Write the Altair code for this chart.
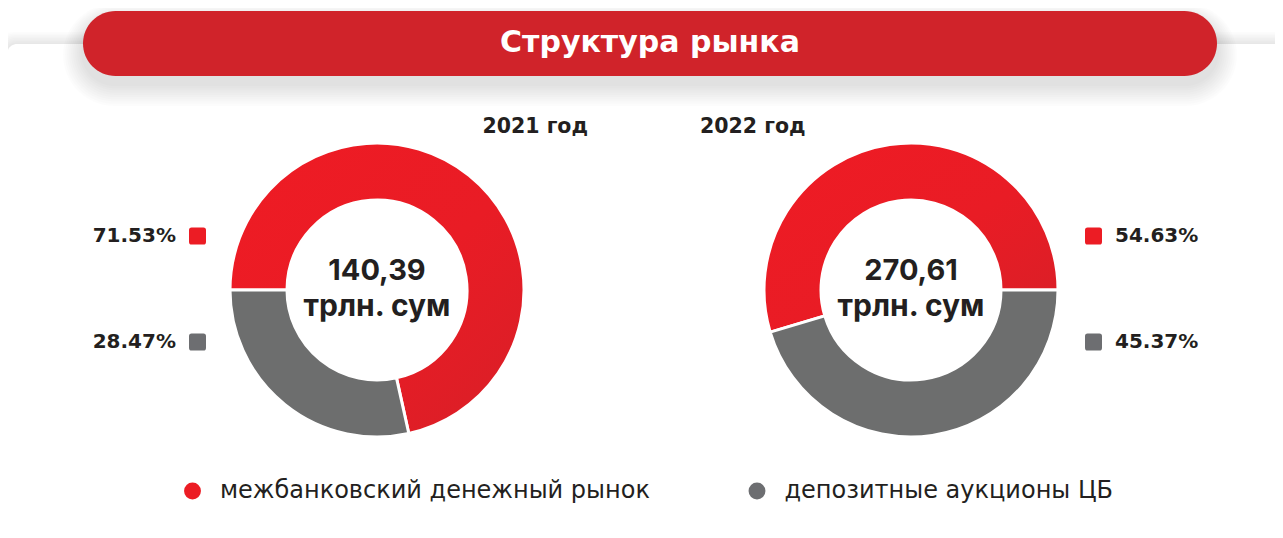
import math
import altair as alt
import pandas as pd

# ---- data ----
categories = ["межбанковский денежный рынок", "депозитные аукционы ЦБ"]
years = ["2021 год", "2022 год"]
shares_2021 = [71.53, 28.47]
shares_2022 = [54.63, 45.37]
totals = ["140,39", "270,61"]
unit = "трлн. сум"
title_text = "Структура рынка"

RED = "#EC1C24"
GRAY = "#6D6E6E"
MARK_GRAY = "#6D6E71"
BANNER = "#D0232A"
DARK = "#231F20"
FONT = "DejaVu Sans"
FONT_C = "Inter"

W, H = 1267, 522

df21 = pd.DataFrame({"category": categories, "value": shares_2021, "idx": [0, 1]})
df22 = pd.DataFrame({"category": categories, "value": shares_2022, "idx": [0, 1]})
dummy = pd.DataFrame({"a": [0]})

cscale = alt.Scale(domain=categories, range=[RED, MARK_GRAY])

red_grad = alt.LinearGradient(
    gradient="linear", x1=0, y1=0, x2=1, y2=1,
    stops=[alt.GradientStop(offset=0, color="#EF1B24"), alt.GradientStop(offset=0.55, color="#E91C25"),
           alt.GradientStop(offset=1, color="#D81F27")],
)

ROUND_SQ = ("M -0.7 -1 L 0.7 -1 Q 1 -1 1 -0.7 L 1 0.7 Q 1 1 0.7 1 L -0.7 1 "
            "Q -1 1 -1 0.7 L -1 -0.7 Q -1 -1 -0.7 -1 Z")

layers = []

# card shadow
for k in range(1, 9):
    layers.append(
        alt.Chart(dummy).mark_rect(cornerRadius=10 + k, color="#000000", opacity=0.010).encode(
            x=alt.value(-1 - k * 1.5), x2=alt.value(1300), y=alt.value(36 - k * 1.5), y2=alt.value(560)
        )
    )
# card
layers.append(
    alt.Chart(dummy).mark_rect(cornerRadius=10, color="white").encode(
        x=alt.value(-1), x2=alt.value(1300), y=alt.value(36), y2=alt.value(560)
    )
)
# banner shadow
for k in range(1, 11):
    layers.append(
        alt.Chart(dummy).mark_rect(cornerRadius=32 + k * 2, color="#000000", opacity=0.012).encode(
            x=alt.value(75 - k * 2), x2=alt.value(1209 + k * 2),
            y=alt.value(3 + 8 - k * 1.5), y2=alt.value(68 + 8 + k * 2.2)
        )
    )
# banner
layers.append(
    alt.Chart(dummy).mark_rect(cornerRadius=32.5, color=BANNER).encode(
        x=alt.value(75), x2=alt.value(1209), y=alt.value(3), y2=alt.value(68)
    )
)
layers.append(
    alt.Chart(pd.DataFrame({"t": [title_text]})).mark_text(
        font=FONT, fontSize=30, fontWeight="bold", color="white", baseline="middle", align="center"
    ).encode(text="t:N", x=alt.value(650 - 8), y=alt.value(35))
)

# donuts
arc_kw = dict(radius=147, radius2=90, stroke="white", strokeWidth=3)
for df, cx, start, order in [(df21, 369, 1.5 * math.pi, "ascending"), (df22, 903, 0.5 * math.pi, "descending")]:
    base = alt.Chart(df).transform_window(
        cum="sum(value)", sort=[alt.SortField("idx", order=order)], frame=[None, 0]
    ).transform_calculate(start="datum.cum - datum.value")
    th = alt.Theta("start:Q", scale=alt.Scale(domain=[0, 100], range=[start, start + 2 * math.pi]))
    layers.append(
        base.transform_filter("datum.idx == 0").mark_arc(fill=red_grad, **arc_kw).encode(
            theta=th, theta2="cum:Q", x=alt.value(cx), y=alt.value(282)
        )
    )
    layers.append(
        base.transform_filter("datum.idx == 1").mark_arc(fill=GRAY, **arc_kw).encode(
            theta=th, theta2="cum:Q", x=alt.value(cx), y=alt.value(282)
        )
    )

# center totals
for cx, tot in zip([369, 903], totals):
    layers.append(
        alt.Chart(pd.DataFrame({"t": [tot]})).mark_text(
            font=FONT_C, fontSize=29, fontWeight="bold", color=DARK, align="center", baseline="middle"
        ).encode(text="t:N", x=alt.value(cx), y=alt.value(263))
    )
    layers.append(
        alt.Chart(pd.DataFrame({"t": [unit]})).mark_text(
            font=FONT_C, fontSize=30, fontWeight="bold", color=DARK, align="center", baseline="middle"
        ).encode(text="t:N", x=alt.value(cx), y=alt.value(299))
    )

# year labels
layers.append(
    alt.Chart(pd.DataFrame({"t": [years[0]]})).mark_text(
        font=FONT, fontSize=20.5, fontWeight="bold", color=DARK, align="right", baseline="middle"
    ).encode(text="t:N", x=alt.value(580), y=alt.value(119))
)
layers.append(
    alt.Chart(pd.DataFrame({"t": [years[1]]})).mark_text(
        font=FONT, fontSize=20.5, fontWeight="bold", color=DARK, align="left", baseline="middle"
    ).encode(text="t:N", x=alt.value(692), y=alt.value(119))
)

# percent labels with squares
ypos = alt.Y("category:N", scale=alt.Scale(type="point", domain=categories, range=[228, 334], padding=0), axis=None)
for df, sq_x, tx, al in [(df21, 189.5, 168, "right"), (df22, 1085.5, 1107, "left")]:
    layers.append(
        alt.Chart(df).mark_point(shape=ROUND_SQ, filled=True, size=289, opacity=1, strokeWidth=0).encode(
            y=ypos, x=alt.value(sq_x), color=alt.Color("category:N", scale=cscale, legend=None)
        )
    )
    layers.append(
        alt.Chart(df).transform_calculate(label="format(datum.value, '.2f') + '%'").mark_text(
            font=FONT, fontSize=20, fontWeight="bold", color=DARK, align=al, baseline="middle"
        ).encode(y=ypos, x=alt.value(tx), text="label:N")
    )

# bottom legend
legend_df = pd.DataFrame({"category": categories})
xleg = alt.X("category:N", scale=alt.Scale(type="point", domain=categories, range=[184.5, 749], padding=0), axis=None)
layers.append(
    alt.Chart(legend_df).mark_circle(size=285, opacity=1).encode(
        x=xleg, y=alt.value(483), color=alt.Color("category:N", scale=cscale, legend=None)
    )
)
layers.append(
    alt.Chart(legend_df).mark_text(
        font=FONT, fontSize=24, color=DARK, align="left", baseline="middle", dx=27.5
    ).encode(x=xleg, y=alt.value(483), text="category:N")
)

chart = (
    alt.layer(*layers)
    .resolve_scale(theta="independent")
    .properties(width=W, height=H, autosize=alt.AutoSizeParams(type="none"), padding=0, background="white")
    .configure_view(stroke=None)
)

chart.save("out.html", embed_options={"renderer": "svg", "actions": False})
